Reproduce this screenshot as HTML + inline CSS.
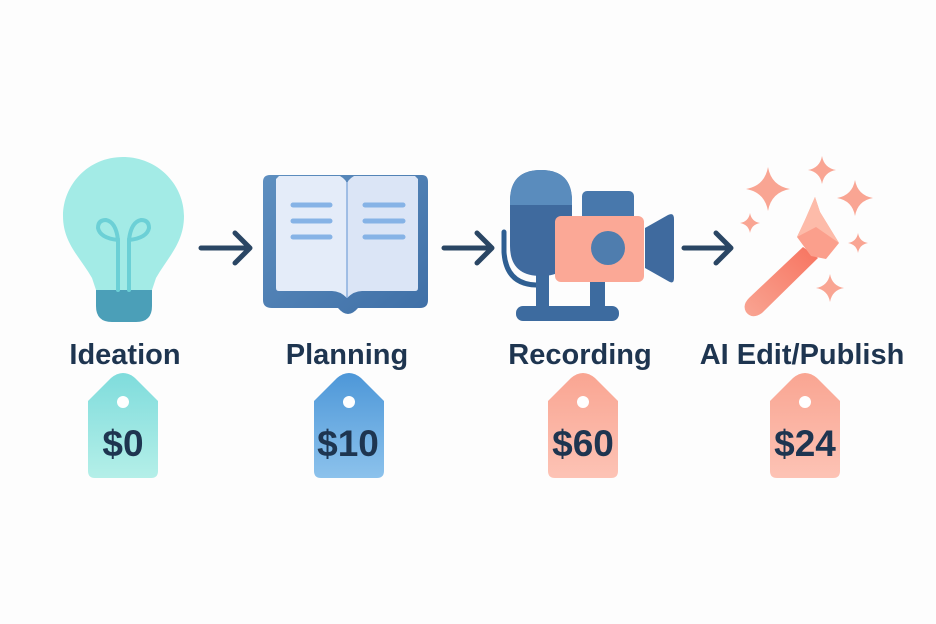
<!DOCTYPE html>
<html><head><meta charset="utf-8"><style>
html,body{margin:0;padding:0;background:#fdfdfd;}
svg{display:block}
text{font-family:"Liberation Sans",sans-serif;font-weight:bold;fill:#1e3550;}
</style></head><body>
<svg width="936" height="624" viewBox="0 0 936 624">
<defs>
<linearGradient id="tg0" x1="0" y1="0" x2="0" y2="1"><stop offset="0" stop-color="#7fdcdc"/><stop offset="1" stop-color="#b4efe8"/></linearGradient>
<linearGradient id="tg1" x1="0" y1="0" x2="0" y2="1"><stop offset="0" stop-color="#4d97d8"/><stop offset="1" stop-color="#8cc2ec"/></linearGradient>
<linearGradient id="tg2" x1="0" y1="0" x2="0" y2="1"><stop offset="0" stop-color="#f9a592"/><stop offset="1" stop-color="#fdc3b5"/></linearGradient>
<linearGradient id="book" x1="0" y1="0" x2="1" y2="1"><stop offset="0" stop-color="#5e8fc0"/><stop offset="1" stop-color="#3f6fa6"/></linearGradient>
<linearGradient id="wand" x1="0" y1="1" x2="1" y2="0"><stop offset="0" stop-color="#f9a593"/><stop offset="1" stop-color="#f7735f"/></linearGradient>
<g id="tag"><path d="M-35,18 L-12,-5 Q0,-15 12,-5 L35,18 L35,88 Q35,95 28,95 L-28,95 Q-35,95 -35,88 Z"/></g>
<path id="spk" d="M0,-1 Q0.15,-0.15 1,0 Q0.15,0.15 0,1 Q-0.15,0.15 -1,0 Q-0.15,-0.15 0,-1Z"/>
</defs>

<!-- Bulb -->
<path d="M123,157 C88,157 63,185 63,216 C63,243 80,257 92,278 L96,290 L152,290 L156,278 C168,257 184,243 184,216 C184,185 158,157 123,157Z" fill="#a3ebe6"/>
<path d="M96,290 L152,290 L152,306 Q152,322 136,322 L112,322 Q96,322 96,306Z" fill="#4b9fb8"/>
<g stroke="#6cd0d6" stroke-width="4" fill="none" stroke-linecap="round">
<path d="M118,290 L118,240 Q100,238 98,228 Q98,220 106,220 Q116,222 118,240"/>
<path d="M129,290 L129,240 Q147,238 149,228 Q149,220 141,220 Q131,222 129,240"/>
</g>

<!-- Arrows -->
<g stroke="#2a4664" stroke-width="5" fill="none" stroke-linecap="round" stroke-linejoin="round">
<path d="M201,248 L248,248 M235,233 L250,248 L235,263"/>
<path d="M444,248 L490,248 M477,233 L492,248 L477,263"/>
<path d="M684,248 L729,248 M716,233 L731,248 L716,263"/>
</g>

<!-- Book -->
<path d="M270,175 L422,175 Q428,175 428,182 L428,300 Q428,308 420,308 L358,308 Q348,320 338,308 L272,308 Q263,308 263,300 L263,182 Q263,175 270,175Z" fill="url(#book)"/>
<path d="M279,176 L340,176 Q347,180 347,185 L347,298 Q340,291 332,291 L279,291 Q276,291 276,288 L276,179Z" fill="#e4ecf9"/>
<path d="M415,176 L354,176 Q347,180 347,185 L347,298 Q354,291 362,291 L415,291 Q418,291 418,288 L418,179Z" fill="#dbe5f6"/>
<line x1="347" y1="182" x2="347" y2="298" stroke="#8aaede" stroke-width="1.5"/>
<g stroke="#86b3e6" stroke-width="5" stroke-linecap="round">
<line x1="293" y1="205" x2="330" y2="205"/><line x1="293" y1="221" x2="330" y2="221"/><line x1="293" y1="237" x2="330" y2="237"/>
<line x1="365" y1="205" x2="403" y2="205"/><line x1="365" y1="221" x2="403" y2="221"/><line x1="365" y1="237" x2="403" y2="237"/>
</g>

<!-- Recording -->
<path d="M504,232 L504,252 Q506,284 536,285" stroke="#2f5f92" stroke-width="5" fill="none" stroke-linecap="round"/>
<rect x="536" y="275" width="13" height="35" fill="#3d6b9f"/>
<rect x="590" y="280" width="15" height="30" fill="#3d6b9f"/>
<rect x="516" y="306" width="103" height="15" rx="7" fill="#3d6b9f"/>
<path d="M510,201 Q510,170 541,170 Q572,170 572,201 L572,246 Q572,276 541,276 Q510,276 510,246Z" fill="#3f6a9e"/>
<path d="M510,201 Q510,170 541,170 Q572,170 572,201 L572,205 L510,205Z" fill="#5a8cbd"/>
<rect x="582" y="191" width="52" height="36" rx="5" fill="#4878ac"/>
<rect x="555" y="216" width="89" height="66" rx="6" fill="#fba896"/>
<circle cx="608" cy="248" r="17" fill="#4f7dae"/>
<path d="M645,228 L668,215 Q674,212 674,219 L674,278 Q674,285 668,281 L645,268Z" fill="#3f6a9e"/>

<!-- Wand -->
<g fill="#f9a593">
<use href="#spk" transform="translate(768,189) scale(22)"/>
<use href="#spk" transform="translate(822,170) scale(14)"/>
<use href="#spk" transform="translate(855,198) scale(18)"/>
<use href="#spk" transform="translate(750,223) scale(10)"/>
<use href="#spk" transform="translate(858,243) scale(10)"/>
<use href="#spk" transform="translate(830,288) scale(14)"/>
</g>
<path d="M803,247 L818,258 L762,313 Q752,320 746,312 Q742,305 749,298Z" fill="url(#wand)"/>
<path d="M815,197 L820,212 L839,243 L826,259 L811,256 L797,237 L805,220Z" fill="#fb9f8c"/>
<path d="M815,197 L820,212 L839,243 L816,227 L797,237 L805,220Z" fill="#fdbba9"/>

<!-- Labels -->
<g font-size="29" text-anchor="middle">
<text x="125" y="364">Ideation</text>
<text x="347" y="364">Planning</text>
<text x="580" y="364">Recording</text>
<text x="802" y="364">AI Edit/Publish</text>
</g>

<!-- Tags -->
<use href="#tag" transform="translate(123,383)" fill="url(#tg0)"/>
<use href="#tag" transform="translate(349,383)" fill="url(#tg1)"/>
<use href="#tag" transform="translate(583,383)" fill="url(#tg2)"/>
<use href="#tag" transform="translate(805,383)" fill="url(#tg2)"/>
<g fill="#fff"><circle cx="123" cy="402" r="6"/><circle cx="349" cy="402" r="6"/><circle cx="583" cy="402" r="6"/><circle cx="805" cy="402" r="6"/></g>
<g font-size="37" text-anchor="middle">
<text x="123" y="456">$0</text>
<text x="348" y="456">$10</text>
<text x="583" y="456">$60</text>
<text x="805" y="456">$24</text>
</g>
</svg>
</body></html>
